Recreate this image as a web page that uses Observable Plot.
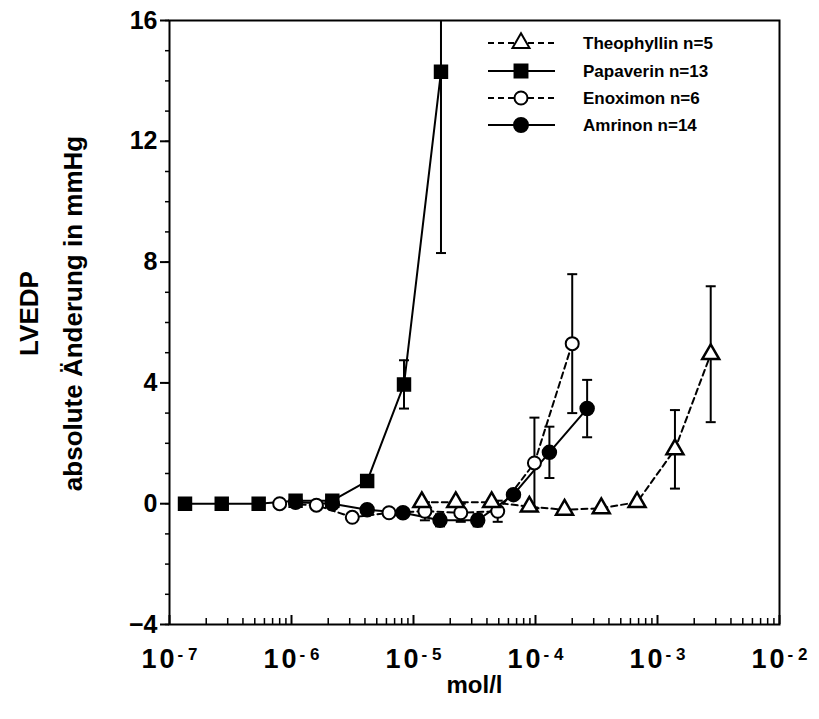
<!DOCTYPE html>
<html><head><meta charset="utf-8">
<script src="https://cdn.jsdelivr.net/npm/d3@7"></script>
<script src="https://cdn.jsdelivr.net/npm/@observablehq/plot@0.6"></script>
<style>
body{margin:0;background:#fff;}
#chart svg{font-family:"Liberation Sans",Arial,sans-serif;font-weight:bold;}
</style>
</head><body><div id="chart"></div>
<script>
// Theophyllin n=5 (open triangles, dashed)
const theoX = [1.17e-5, 2.22e-5, 4.37e-5, 8.9e-5, 1.73e-4, 3.46e-4, 6.8e-4, 1.39e-3, 2.73e-3];
const theoY = [0.05, 0.05, 0.05, -0.1, -0.2, -0.15, 0.05, 1.8, 4.95];
const theoE = [0, 0, 0, 0, 0, 0, 0, 1.3, 2.25];
// Papaverin n=13 (filled squares, solid)
const papaX = [1.34e-7, 2.68e-7, 5.38e-7, 1.08e-6, 2.16e-6, 4.17e-6, 8.36e-6, 1.68e-5];
const papaY = [0, 0, 0, 0.1, 0.1, 0.75, 3.95, 14.3];
const papaE = [0, 0, 0, 0, 0, 0, 0.8, 6.0];
// Enoximon n=6 (open circles, dashed)
const enoxX = [8.0e-7, 1.6e-6, 3.15e-6, 6.3e-6, 1.24e-5, 2.44e-5, 4.9e-5, 9.8e-5, 2.0e-4];
const enoxY = [0.0, -0.05, -0.45, -0.3, -0.25, -0.3, -0.25, 1.35, 5.3];
const enoxE = [0, 0, 0, 0, 0.3, 0.3, 0.35, 1.5, 2.3];
// Amrinon n=14 (filled circles, solid)
const amriX = [1.08e-6, 2.16e-6, 4.17e-6, 8.2e-6, 1.65e-5, 3.36e-5, 6.6e-5, 1.3e-4, 2.65e-4];
const amriY = [0.05, 0.0, -0.2, -0.3, -0.55, -0.55, 0.3, 1.7, 3.15];
const amriE = [0, 0, 0, 0, 0.2, 0.2, 0, 0.85, 0.95];

const seriesNames = ["Theophyllin n=5", "Papaverin n=13", "Enoximon n=6", "Amrinon n=14"];
const xTicks = [1e-7, 1e-6, 1e-5, 1e-4, 1e-3, 1e-2];
const yTicks = [-4, 0, 4, 8, 12, 16];

const build = (name, xs, ys, es) => xs.map((x, i) => ({series: name, x, y: ys[i], e: es[i]}));
const theo = build(seriesNames[0], theoX, theoY, theoE);
const papa = build(seriesNames[1], papaX, papaY, papaE);
const enox = build(seriesNames[2], enoxX, enoxY, enoxE);
const amri = build(seriesNames[3], amriX, amriY, amriE);
const all = [...theo, ...papa, ...enox, ...amri];
const withErr = all.filter(d => d.e > 0);

const minorX = [];
for (let p = -7; p < -2; p++) for (let m = 2; m <= 9; m++) minorX.push(m * Math.pow(10, p));
const minorY = d3.range(-4, 17, 1);

const cap = {draw(ctx) { ctx.moveTo(-5, 0); ctx.lineTo(5, 0); }};
const dashed = "6,4";

const chart = Plot.plot({
  width: 819,
  height: 719,
  marginLeft: 169,
  marginRight: 40,
  marginTop: 20,
  marginBottom: 95,
  x: {type: "log", domain: [1e-7, 1e-2]},
  y: {domain: [-4, 16]},
  marks: [
    Plot.frame({stroke: "black", strokeWidth: 2}),
    Plot.axisY({ticks: minorY, tickSize: 4, tickFormat: () => "", label: null, strokeWidth: 1.5}),
    Plot.axisY({ticks: yTicks, tickSize: 9, tickPadding: 3, fontSize: 25, label: null, strokeWidth: 2}),
    Plot.axisX({ticks: minorX, tickSize: -6, tickFormat: () => "", label: null, strokeWidth: 1.5}),
    Plot.axisX({ticks: xTicks, tickSize: -9, tickPadding: 33, fontSize: 27,
      tickFormat: d => "10^" + Math.round(Math.log10(d)), label: null, strokeWidth: 2}),
    Plot.text(["mol/l"], {frameAnchor: "bottom", dy: 68, fontSize: 24, fontWeight: "bold"}),
    Plot.text(["LVEDP"], {frameAnchor: "left", dx: -140, dy: -9, rotate: -90, textAnchor: "middle", fontSize: 26, fontWeight: "bold"}),
    Plot.text(["absolute Änderung in mmHg"], {frameAnchor: "left", dx: -96, dy: -9, rotate: -90, textAnchor: "middle", fontSize: 26, fontWeight: "bold"}),
    // error bars
    Plot.ruleX(withErr, {x: "x", y1: d => d.y - d.e, y2: d => d.y + d.e, stroke: "black", strokeWidth: 2, clip: true}),
    Plot.dot(withErr, {x: "x", y: d => d.y + d.e, symbol: cap, stroke: "black", strokeWidth: 2, clip: true}),
    Plot.dot(withErr, {x: "x", y: d => d.y - d.e, symbol: cap, stroke: "black", strokeWidth: 2, clip: true}),
    // lines
    Plot.line(amri, {x: "x", y: "y", stroke: "black", strokeWidth: 2}),
    Plot.line(enox, {x: "x", y: "y", stroke: "black", strokeWidth: 2, strokeDasharray: dashed}),
    Plot.line(papa, {x: "x", y: "y", stroke: "black", strokeWidth: 2}),
    Plot.line(theo, {x: "x", y: "y", stroke: "black", strokeWidth: 2, strokeDasharray: dashed}),
    // symbols
    Plot.dot(amri, {x: "x", y: "y", r: 7, fill: "black", stroke: "black"}),
    Plot.dot(enox, {x: "x", y: "y", r: 6.5, fill: "white", stroke: "black", strokeWidth: 2}),
    Plot.dot(papa, {x: "x", y: "y", r: 7.3, symbol: "square", fill: "black", stroke: "black"}),
    Plot.dot(theo, {x: "x", y: "y", r: 6.3, symbol: "triangle", fill: "white", stroke: "black", strokeWidth: 2.5})
  ]
});
document.getElementById("chart").appendChild(chart);

// superscript exponents on the x tick labels
d3.select(chart).selectAll('g[aria-label="x-axis tick label"] text').each(function() {
  const t = d3.select(this);
  const s = t.text();
  if (s.indexOf("^") < 0) return;
  const [base, exp] = s.split("^");
  t.text(null);
  t.append("tspan").attr("letter-spacing", "3px").text(base);
  t.append("tspan").attr("dy", "-0.45em").attr("font-size", "17px").text(exp.replace("-", "- "));
});

// legend inside the frame (top right)
const svg = d3.select(chart);
const lg = svg.append("g").attr("transform", "translate(488,0)").attr("text-anchor", "start");
const rows = [
  {name: seriesNames[0], dash: dashed, sym: d3.symbolTriangle, fill: "white", size: 125, y: 43},
  {name: seriesNames[1], dash: null, sym: d3.symbolSquare, fill: "black", size: 167, y: 71},
  {name: seriesNames[2], dash: dashed, sym: d3.symbolCircle, fill: "white", size: 133, y: 98},
  {name: seriesNames[3], dash: null, sym: d3.symbolCircle, fill: "black", size: 154, y: 125}
];
rows.forEach(r => {
  lg.append("line").attr("x1", 0).attr("x2", 67).attr("y1", r.y).attr("y2", r.y)
    .attr("stroke", "black").attr("stroke-width", 2).attr("stroke-dasharray", r.dash);
  lg.append("path").attr("d", d3.symbol(r.sym, r.size)()).attr("transform", `translate(33,${r.y})`)
    .attr("fill", r.fill).attr("stroke", "black").attr("stroke-width", 2);
  lg.append("text").attr("x", 95).attr("y", r.y).attr("dy", "0.35em").attr("font-size", 17)
    .attr("text-anchor", "start").attr("font-weight", "bold").text(r.name);
});
</script>
</body></html>
